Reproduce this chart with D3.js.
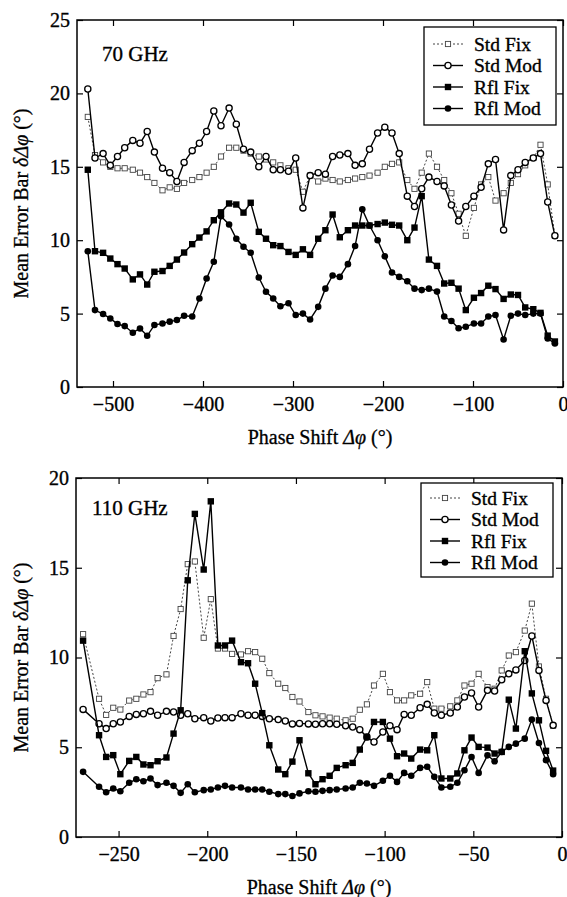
<!DOCTYPE html>
<html>
<head>
<meta charset="utf-8">
<script src="https://cdn.jsdelivr.net/npm/d3@7"></script>
<style>
  body { margin: 0; background: #fff; }
  svg text { font-family: "Liberation Serif", "Times New Roman", "DejaVu Serif", serif; fill: #000; }
</style>
</head>
<body>
<svg id="fig" width="567" height="897"></svg>
<script>
// series names, as in the legends
const seriesNames = ["Std Fix", "Std Mod", "Rfl Fix", "Rfl Mod"];

// ---- 70 GHz panel ----
const phase70 = [-528, -520, -511, -503, -495, -487, -478, -470, -462, -454, -445, -437, -429, -421, -412, -404,
  -396, -388, -380, -371, -363, -355, -347, -338, -330, -322, -314, -305, -297, -289, -281, -272,
  -264, -256, -248, -239, -231, -223, -215, -206, -198, -190, -182, -173, -165, -157, -149, -140,
  -132, -124, -116, -108, -99, -91, -83, -75, -66, -58, -50, -42, -33, -25, -17, -9];
const stdFix70 = [18.4, 15.8, 15.3, 15.0, 14.9, 14.9, 14.8, 14.6, 14.3, 13.9, 13.4, 13.6, 13.5, 13.9, 14.1, 14.3,
  14.6, 15.0, 15.7, 16.3, 16.3, 16.1, 15.9, 15.7, 15.5, 15.3, 15.1, 14.9, 14.8, 13.3, 14.4, 14.0,
  14.2, 14.1, 14.0, 14.1, 14.2, 14.3, 14.4, 14.6, 15.0, 15.2, 15.3, 14.1, 13.5, 14.6, 15.9, 15.0,
  14.1, 13.2, 11.8, 10.3, 12.2, 13.8, 14.3, 12.7, 13.2, 13.9, 14.5, 15.1, 15.6, 16.5, 13.8, 10.3];
const stdMod70 = [20.3, 15.6, 15.9, 15.1, 15.7, 16.3, 16.8, 16.6, 17.4, 16.0, 14.9, 14.6, 14.0, 15.3, 16.1, 16.6,
  17.4, 18.8, 17.8, 19.0, 17.9, 16.2, 16.0, 15.0, 15.7, 14.8, 14.8, 14.7, 15.6, 12.2, 14.4, 14.6,
  14.5, 15.7, 15.8, 15.9, 15.1, 15.2, 16.2, 17.3, 17.7, 17.3, 15.9, 13.0, 12.3, 13.5, 14.3, 14.0,
  13.7, 12.4, 11.3, 12.3, 13.0, 13.6, 15.2, 15.5, 10.7, 14.4, 14.8, 15.3, 15.6, 15.9, 12.6, 10.3];
const rflFix70 = [14.8, 9.25, 9.14, 8.75, 8.37, 8.07, 7.33, 7.67, 6.98, 7.85, 7.9, 8.25, 8.68, 9.16, 9.73, 10.18,
  10.6, 11.36, 11.9, 12.5, 12.43, 11.88, 12.55, 10.57, 10.1, 9.66, 9.6, 9.2, 9.0, 9.38, 9.0, 10.1,
  10.68, 11.75, 10.2, 10.68, 11.0, 11.0, 11.0, 11.1, 11.2, 11.05, 11.0, 10.0, 10.86, 13.0, 8.68, 8.25,
  7.05, 7.1, 6.7, 5.24, 6.08, 6.4, 6.9, 6.67, 6.0, 6.3, 6.27, 5.42, 5.3, 5.05, 3.5, 3.1];
const rflMod70 = [9.25, 5.24, 4.97, 4.67, 4.29, 4.15, 3.7, 3.99, 3.49, 4.22, 4.33, 4.45, 4.56, 4.85, 4.8, 6.03,
  7.39, 8.53, 11.63, 11.07, 10.1, 9.55, 9.14, 7.46, 6.49, 6.03, 5.5, 5.7, 4.9, 5.0, 4.6, 5.46,
  6.7, 7.6, 7.5, 8.37, 9.6, 12.1, 11.0, 10.0, 8.9, 7.8, 7.5, 7.2, 6.7, 6.6, 6.7, 6.5,
  4.8, 4.5, 4.0, 4.1, 4.33, 4.33, 4.8, 4.9, 3.24, 4.85, 5.0, 4.9, 5.0, 5.0, 3.3, 2.97];
const ticksX70 = [-500, -400, -300, -200, -100, 0];
const ticksY70 = [0, 5, 10, 15, 20, 25];

// ---- 110 GHz panel ----
const phase110 = [-270, -261, -257, -253, -249, -244, -240, -236, -232, -228, -223, -219, -215, -211, -207, -202,
  -198, -194, -190, -186, -181, -177, -173, -169, -165, -160, -156, -152, -148, -143, -139, -135,
  -131, -127, -122, -118, -114, -110, -106, -101, -97, -93, -89, -85, -80, -76, -72, -68,
  -63, -59, -55, -51, -47, -42, -38, -34, -30, -26, -21, -17, -13, -9, -5];
const stdFix110 = [11.3, 7.7, 6.8, 7.2, 7.1, 7.6, 7.7, 7.94, 8.07, 8.85, 9.06, 11.2, 12.7, 15.2, 15.35, 11.1,
  13.25, 10.5, 10.5, 10.2, 10.17, 10.35, 10.3, 9.93, 9.13, 8.54, 8.3, 7.8, 7.55, 6.96, 6.78, 6.72,
  6.65, 6.59, 6.5, 6.59, 7.09, 7.39, 8.44, 9.09, 8.07, 7.61, 7.61, 7.89, 7.98, 8.63, 7.15, 7.15,
  7.28, 7.61, 8.44, 8.54, 9.09, 8.35, 8.26, 9.28, 10.11, 10.3, 11.5, 13.0, 9.5, 7.7, 6.2];
const stdMod110 = [7.11, 6.31, 6.04, 6.31, 6.41, 6.72, 6.83, 6.87, 7.0, 6.78, 7.0, 6.96, 6.78, 6.87, 6.59, 6.65,
  6.46, 6.63, 6.65, 6.65, 6.87, 6.78, 6.78, 6.72, 6.59, 6.54, 6.46, 6.3, 6.33, 6.3, 6.28, 6.31,
  6.31, 6.28, 6.2, 6.13, 5.98, 5.57, 5.29, 5.85, 6.2, 5.98, 6.83, 6.78, 7.2, 7.39, 6.91, 6.78,
  6.91, 7.24, 7.8, 8.02, 7.24, 8.17, 8.13, 8.76, 9.09, 9.31, 9.83, 11.2, 9.28, 7.61, 6.22];
const rflFix110 = [10.94, 5.67, 4.46, 4.56, 3.5, 4.24, 4.46, 4.04, 4.0, 4.22, 4.43, 5.76, 7.06, 14.3, 18.0, 14.9,
  18.7, 10.67, 10.67, 10.94, 9.74, 9.68, 8.54, 6.9, 5.11, 3.76, 3.5, 4.2, 5.39, 3.55, 2.94, 3.22,
  3.41, 3.85, 4.0, 4.13, 4.87, 5.57, 6.41, 6.41, 5.48, 4.5, 4.65, 4.37, 4.87, 4.83, 5.67, 3.26,
  3.26, 3.54, 4.83, 5.54, 5.02, 4.98, 4.65, 4.74, 7.65, 6.04, 10.35, 8.0, 6.5, 4.8, 3.7];
const rflMod110 = [3.63, 2.8, 2.49, 2.7, 2.55, 3.02, 3.22, 3.11, 3.26, 2.89, 3.02, 2.85, 2.46, 2.94, 2.49, 2.61,
  2.65, 2.76, 2.85, 2.76, 2.76, 2.65, 2.65, 2.65, 2.52, 2.39, 2.39, 2.28, 2.43, 2.55, 2.52, 2.57,
  2.61, 2.65, 2.7, 2.76, 3.02, 2.98, 2.85, 3.13, 3.41, 3.07, 3.57, 3.41, 3.85, 3.91, 3.35, 2.76,
  2.8, 3.02, 3.72, 4.46, 3.57, 4.55, 4.22, 4.74, 5.02, 5.2, 5.48, 6.54, 5.24, 4.28, 3.5];
const ticksX110 = [-250, -200, -150, -100, -50, 0];
const ticksY110 = [0, 5, 10, 15, 20];

const serif = "'Liberation Serif', 'Times New Roman', 'DejaVu Serif', serif";
const svg = d3.select("#fig");
svg.append("rect").attr("width", 567).attr("height", 897).attr("fill", "#fff");

// how each series is drawn
const styles = {
  "Std Fix": { stroke: "#444", width: 1, dash: "2,2", marker: "osquare" },
  "Std Mod": { stroke: "#000", width: 1.4, dash: null, marker: "ocircle" },
  "Rfl Fix": { stroke: "#000", width: 1.4, dash: null, marker: "fsquare" },
  "Rfl Mod": { stroke: "#000", width: 1.4, dash: null, marker: "fcircle" }
};

function drawMarker(g, kind, x, y) {
  if (kind == "osquare") {
    g.append("rect").attr("x", x - 2.6).attr("y", y - 2.6).attr("width", 5.2).attr("height", 5.2)
      .attr("fill", "#fff").attr("stroke", "#444").attr("stroke-width", 0.9);
  } else if (kind == "ocircle") {
    g.append("circle").attr("cx", x).attr("cy", y).attr("r", 3.1)
      .attr("fill", "#fff").attr("stroke", "#000").attr("stroke-width", 1.3);
  } else if (kind == "fsquare") {
    g.append("rect").attr("x", x - 3.2).attr("y", y - 3.2).attr("width", 6.4).attr("height", 6.4)
      .attr("fill", "#000");
  } else {
    g.append("circle").attr("cx", x).attr("cy", y).attr("r", 3.3).attr("fill", "#000");
  }
}

function panel(cfg) {
  const x = d3.scaleLinear().domain(cfg.xdom).range([cfg.left, cfg.right]);
  const y = d3.scaleLinear().domain(cfg.ydom).range([cfg.bottom, cfg.top]);
  const g = svg.append("g");

  // ticks pointing inward on all four sides
  const tl = 6;
  g.append("g").attr("transform", `translate(0,${cfg.bottom})`)
    .call(d3.axisBottom(x).tickValues(cfg.xt).tickSizeInner(-tl).tickSizeOuter(0).tickPadding(10))
    .call(a => a.select(".domain").remove());
  g.append("g").attr("transform", `translate(0,${cfg.top})`)
    .call(d3.axisTop(x).tickValues(cfg.xt).tickSizeInner(-tl).tickSizeOuter(0).tickFormat(""))
    .call(a => a.select(".domain").remove());
  g.append("g").attr("transform", `translate(${cfg.left},0)`)
    .call(d3.axisLeft(y).tickValues(cfg.yt).tickSizeInner(-tl).tickSizeOuter(0).tickPadding(7))
    .call(a => a.select(".domain").remove());
  g.append("g").attr("transform", `translate(${cfg.right},0)`)
    .call(d3.axisRight(y).tickValues(cfg.yt).tickSizeInner(-tl).tickSizeOuter(0).tickFormat(""))
    .call(a => a.select(".domain").remove());
  g.selectAll("g").attr("font-family", serif);
  g.selectAll(".tick line").attr("stroke", "#000").attr("stroke-width", 1.2);
  g.selectAll(".tick text").attr("font-size", 20).attr("font-family", serif)
    .attr("fill", "#000").attr("stroke", "#000").attr("stroke-width", 0.35);

  g.append("rect").attr("x", cfg.left).attr("y", cfg.top)
    .attr("width", cfg.right - cfg.left).attr("height", cfg.bottom - cfg.top)
    .attr("fill", "none").attr("stroke", "#000").attr("stroke-width", 1.5);

  const line = d3.line().x(d => x(d[0])).y(d => y(d[1]));
  cfg.series.forEach((vals, k) => {
    const st = styles[seriesNames[k]];
    const pts = cfg.xs.map((v, i) => [v, vals[i]]);
    g.append("path").datum(pts).attr("d", line).attr("fill", "none")
      .attr("stroke", st.stroke).attr("stroke-width", st.width)
      .attr("stroke-dasharray", st.dash);
    const mg = g.append("g");
    pts.forEach(p => drawMarker(mg, st.marker, x(p[0]), y(p[1])));
  });

  // frequency label
  g.append("text").attr("x", cfg.labelX).attr("y", cfg.labelY).attr("font-size", 21)
    .attr("font-family", serif).attr("stroke", "#000").attr("stroke-width", 0.35).text(cfg.label);

  // legend
  const lg = cfg.legend;
  g.append("rect").attr("x", lg.x0).attr("y", lg.y0).attr("width", lg.x1 - lg.x0).attr("height", lg.y1 - lg.y0)
    .attr("fill", "#fff").attr("stroke", "#000").attr("stroke-width", 1.3);
  seriesNames.forEach((name, k) => {
    const st = styles[name];
    const yy = lg.y0 + lg.first + k * lg.step;
    g.append("line").attr("x1", lg.x0 + 9).attr("x2", lg.x0 + 39).attr("y1", yy).attr("y2", yy)
      .attr("stroke", st.stroke).attr("stroke-width", st.width).attr("stroke-dasharray", st.dash);
    drawMarker(g, st.marker, lg.x0 + 24, yy);
    g.append("text").attr("x", lg.x0 + 50).attr("y", yy + 6.5).attr("font-size", 19.5)
      .attr("font-family", serif).attr("stroke", "#000").attr("stroke-width", 0.35).text(name);
  });

  // axis titles
  const xt = g.append("text").attr("x", (cfg.left + cfg.right) / 2).attr("y", cfg.bottom + 57)
    .attr("text-anchor", "middle").attr("font-size", 20).attr("font-family", serif)
    .attr("stroke", "#000").attr("stroke-width", 0.3);
  xt.append("tspan").text("Phase Shift  ");
  xt.append("tspan").attr("font-style", "italic").text("Δφ");
  xt.append("tspan").text(" (°)");

  const yc = (cfg.top + cfg.bottom) / 2;
  const yt = g.append("text").attr("transform", `translate(28,${yc}) rotate(-90)`)
    .attr("text-anchor", "middle").attr("font-size", 20).attr("font-family", serif)
    .attr("stroke", "#000").attr("stroke-width", 0.3);
  yt.append("tspan").text("Mean Error Bar  ");
  yt.append("tspan").attr("font-style", "italic").text("δΔφ");
  yt.append("tspan").text(" (°)");
}

panel({
  xdom: [-540, 0], ydom: [0, 25], left: 77, right: 563, top: 20, bottom: 387,
  xt: ticksX70, yt: ticksY70, xs: phase70,
  series: [stdFix70, stdMod70, rflFix70, rflMod70],
  label: "70 GHz", labelX: 102, labelY: 61,
  legend: { x0: 424, x1: 556, y0: 27, y1: 125, first: 17, step: 21.5 }
});

panel({
  xdom: [-274, 0], ydom: [0, 20], left: 76, right: 562, top: 478, bottom: 837,
  xt: ticksX110, yt: ticksY110, xs: phase110,
  series: [stdFix110, stdMod110, rflFix110, rflMod110],
  label: "110 GHz", labelX: 92, labelY: 515,
  legend: { x0: 421, x1: 553, y0: 483, y1: 577, first: 15, step: 21.5 }
});
</script>
</body>
</html>
